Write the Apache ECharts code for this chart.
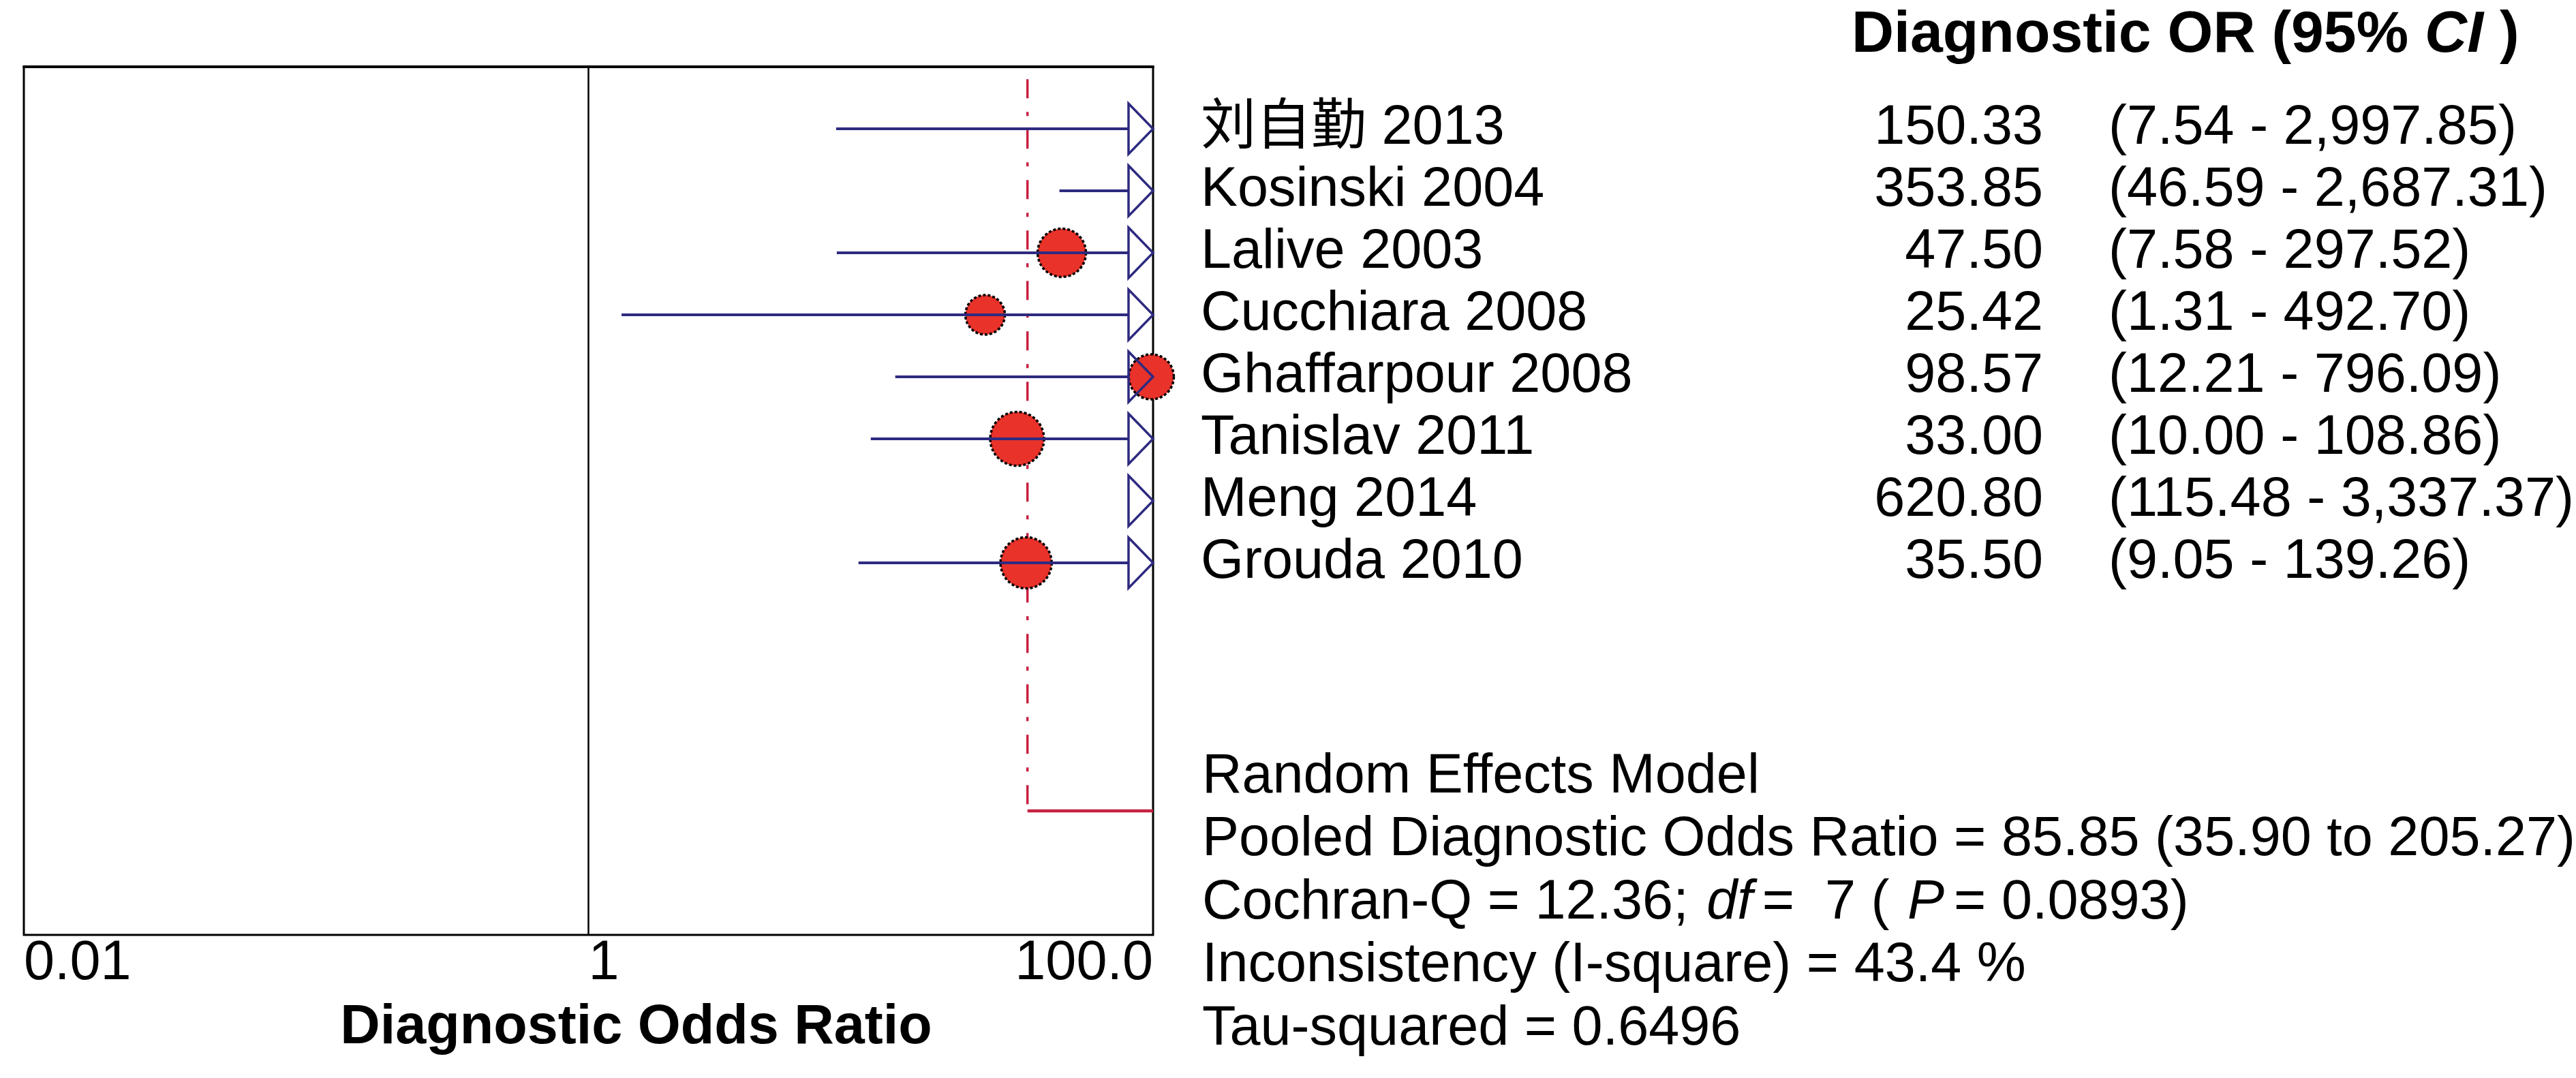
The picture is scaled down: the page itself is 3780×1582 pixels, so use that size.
<!DOCTYPE html>
<html><head><meta charset="utf-8">
<script src="https://cdn.jsdelivr.net/npm/echarts@6/dist/echarts.min.js"></script>
<style>html,body{margin:0;padding:0;background:#fff}#c{width:3780px;height:1582px}</style>
</head><body><div id="c"></div>
<script>
// ---- data ----
const studyNames = ['刘自勤 2013','Kosinski 2004','Lalive 2003','Cucchiara 2008','Ghaffarpour 2008','Tanislav 2011','Meng 2014','Grouda 2010'];
const studyOR   = [150.33, 353.85, 47.50, 25.42, 98.57, 33.00, 620.80, 35.50];
const ciLower   = [7.54, 46.59, 7.58, 1.31, 12.21, 10.00, 115.48, 9.05];
const ciUpper   = [2997.85, 2687.31, 297.52, 492.70, 796.09, 108.86, 3337.37, 139.26];
const studyWeight = [4.6, 5.4, 17.4, 11.6, 15.1, 21.6, 4.8, 19.5]; // relative weights (%)
const tickValues = [0.01, 1, 100];
const tickLabels = ['0.01', '1', '100.0'];
const pooledLineOR = 35.9;
const headerText = 'Diagnostic OR (95% {ci|CI} )';
const axisTitle = 'Diagnostic Odds Ratio';
const summaryLines = [
  'Random Effects Model',
  'Pooled Diagnostic Odds Ratio = 85.85 (35.90 to 205.27)',
  'Cochran-Q = 12.36; {i|df}=  7 ( {i|P}= 0.0893)',
  'Inconsistency (I-square) = 43.4 %',
  'Tau-squared = 0.6496'
];

// ---- layout / style ----
const FONT = "'Liberation Sans', Arial, 'Noto Sans CJK SC', sans-serif";
const NAVY = '#2e2a80', RED = '#e8322a', CRIMSON = '#c8203f';
const AXIS_MIN = 0.01, AXIS_MAX = 100, ROW_MAX = 14, POOLED_ROW = 12;
const GRID_L = 35, GRID_T = 98, GRID_W = 1657, GRID_H = 1274;
const GRID_R_X = GRID_L + GRID_W;

const fmt2 = v => v.toLocaleString('en-US', {minimumFractionDigits: 2, maximumFractionDigits: 2});
const orText = studyOR.map(fmt2);
const ciText = studyOR.map((_, i) => '(' + fmt2(ciLower[i]) + ' - ' + fmt2(ciUpper[i]) + ')');

const rowLabel = arr => v => (Math.abs(v - Math.round(v)) < 1e-6 && v >= 1 && v <= arr.length) ? arr[Math.round(v) - 1] : '';

function textAxis(arr, offset, align, margin) {
  return {
    type: 'value', min: 0, max: ROW_MAX, interval: 1, inverse: true,
    position: 'right', offset: offset,
    axisLine: {show: false}, axisTick: {show: false}, splitLine: {show: false},
    axisLabel: {
      formatter: rowLabel(arr), align: align, margin: margin, verticalAlign: 'middle',
      fontFamily: FONT, fontSize: 81, color: '#000', padding: [0, 0, 14, 0]
    }
  };
}

const chart = echarts.init(document.getElementById('c'), null, {renderer: 'canvas'});
const option = {
  backgroundColor: '#fff',
  animation: false,
  title: [
    {
      text: headerText, left: 2717, top: 4, padding: 0,
      textStyle: {fontFamily: FONT, fontSize: 86, fontWeight: 'bold', color: '#000', lineHeight: 96,
        rich: {ci: {fontFamily: FONT, fontSize: 86, fontWeight: 'bold', fontStyle: 'italic', color: '#000', lineHeight: 96}}}
    },
    {
      text: summaryLines.join('\n'), left: 1764, top: 1094, padding: 0,
      textStyle: {fontFamily: FONT, fontSize: 81, fontWeight: 'normal', color: '#000', lineHeight: 92.5,
        rich: {i: {fontFamily: FONT, fontSize: 81, fontStyle: 'italic', color: '#000', lineHeight: 92.5, padding: [0, 14, 0, 4]}}}
    }
  ],
  grid: {
    left: GRID_L, top: GRID_T, width: GRID_W, height: GRID_H,
    show: true, borderColor: '#000', borderWidth: 3, backgroundColor: 'transparent',
    containLabel: false, outerBoundsMode: 'none'
  },
  xAxis: {
    type: 'log', logBase: 10, min: AXIS_MIN, max: AXIS_MAX,
    name: axisTitle, nameLocation: 'middle', nameGap: 137, nameMoveOverlap: false,
    nameTextStyle: {fontFamily: FONT, fontSize: 81, fontWeight: 'bold', color: '#000', verticalAlign: 'middle', padding: [0, 0, 0, 140]},
    axisLine: {show: true, lineStyle: {color: '#000', width: 4}},
    axisTick: {show: false}, splitLine: {show: false},
    axisLabel: {
      fontFamily: FONT, fontSize: 81, color: '#000', margin: 43, verticalAlign: 'middle',
      align: 'left', alignMinLabel: 'left', alignMaxLabel: 'right', hideOverlap: false,
      showMinLabel: true, showMaxLabel: true,
      formatter: v => {
        const k = tickValues.findIndex(t => Math.abs(Math.log10(t) - Math.log10(v)) < 1e-6);
        return k >= 0 ? tickLabels[k] : '';
      }
    }
  },
  yAxis: [
    {type: 'value', min: 0, max: ROW_MAX, inverse: true, show: false},
    textAxis(studyNames, 0, 'left', 70),
    textAxis(orText, 2998 - GRID_R_X, 'right', 0),
    textAxis(ciText, 3094 - GRID_R_X, 'left', 0)
  ],
  series: [
    { // null line at OR = 1
      type: 'line', yAxisIndex: 0, symbol: 'none', silent: true, z: 1,
      data: [[1, 0], [1, ROW_MAX]],
      lineStyle: {color: '#000', width: 2.5}
    },
    { // pooled reference (dash-dot)
      type: 'line', yAxisIndex: 0, symbol: 'none', silent: true, z: 2,
      data: [[pooledLineOR, 0.2], [pooledLineOR, POOLED_ROW]],
      lineStyle: {color: CRIMSON, width: 3.5, type: [28, 20, 6, 20]}
    },
    { // pooled horizontal marker
      type: 'line', yAxisIndex: 0, symbol: 'none', silent: true, z: 2,
      data: [[pooledLineOR, POOLED_ROW], [AXIS_MAX, POOLED_ROW]],
      lineStyle: {color: CRIMSON, width: 4.5}
    },
    { // study point estimates
      type: 'scatter', yAxisIndex: 0, clip: false, z: 3,
      data: studyOR.map((v, i) => [v, i + 1, studyWeight[i]]).filter(d => d[0] <= AXIS_MAX),
      symbol: 'circle',
      symbolSize: d => 17 * Math.sqrt(d[2]),
      itemStyle: {color: RED, opacity: 1, borderColor: '#000', borderWidth: 3.5, borderType: [4, 3]}
    },
    { // confidence intervals with arrows when truncated
      type: 'custom', yAxisIndex: 0, clip: false, z: 4,
      data: studyOR.map((_, i) => [ciLower[i], ciUpper[i], i + 1]),
      encode: {x: [0, 1], y: 2},
      renderItem: (params, api) => {
        const lo = api.value(0), hi = api.value(1), row = api.value(2);
        const pMax = api.coord([AXIS_MAX, row]);
        const y = pMax[1];
        const arrowLen = 36, arrowHalf = 37;
        const children = [];
        const xEnd = hi > AXIS_MAX ? pMax[0] - arrowLen : api.coord([hi, row])[0];
        if (lo < AXIS_MAX) {
          const xStart = api.coord([Math.max(lo, AXIS_MIN), row])[0];
          children.push({type: 'line', shape: {x1: xStart, y1: y, x2: xEnd, y2: y},
            style: {stroke: NAVY, lineWidth: 4}});
        }
        if (hi > AXIS_MAX) {
          children.push({type: 'polygon',
            shape: {points: [[xEnd, y - arrowHalf], [pMax[0], y], [xEnd, y + arrowHalf]]},
            style: {fill: 'none', stroke: NAVY, lineWidth: 3.5}});
        }
        return {type: 'group', children: children};
      }
    }
  ]
};
chart.setOption(option);
</script>
</body></html>
